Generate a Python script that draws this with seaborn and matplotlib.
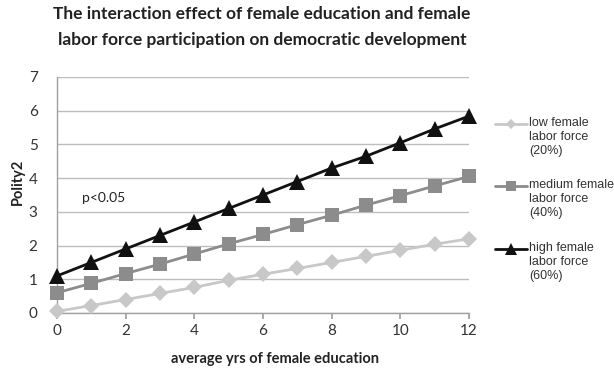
import numpy as np
import pandas as pd
import seaborn as sns
import matplotlib
matplotlib.use("Agg")
import matplotlib.pyplot as plt
from matplotlib.lines import Line2D

# Predicted Polity2 by years of female education, per labor-force level
years = list(range(0, 13))
low_lf = [0.05, 0.22, 0.40, 0.58, 0.76, 0.97, 1.15, 1.32, 1.50, 1.68, 1.86, 2.04, 2.20]
med_lf = [0.60, 0.88, 1.17, 1.45, 1.75, 2.05, 2.33, 2.62, 2.90, 3.20, 3.48, 3.77, 4.05]
high_lf = [1.10, 1.50, 1.90, 2.30, 2.70, 3.10, 3.50, 3.90, 4.30, 4.65, 5.05, 5.46, 5.84]
series_labels = ["low female\nlabor force\n(20%)",
                 "medium female\nlabor force\n(40%)",
                 "high female\nlabor force\n(60%)"]
x_ticks = [0, 2, 4, 6, 8, 10, 12]
y_ticks = [0, 1, 2, 3, 4, 5, 6, 7]

df = pd.DataFrame({
    "years": years * 3,
    "polity": low_lf + med_lf + high_lf,
    "group": [series_labels[0]] * 13 + [series_labels[1]] * 13 + [series_labels[2]] * 13,
})

sns.set_theme(style="white")
plt.rcParams["font.family"] = ["Lato", "DejaVu Sans"]

W, H = 614, 369
fig = plt.figure(figsize=(W / 100, H / 100), dpi=100)
ax = fig.add_axes([57 / W, 1 - 313 / H, (469 - 57) / W, (313 - 77) / H])

palette = {series_labels[0]: "#c8c8c8", series_labels[1]: "#8c8c8c", series_labels[2]: "#111111"}
markers = {series_labels[0]: "D", series_labels[1]: "s", series_labels[2]: "^"}
sizes = {series_labels[0]: 8, series_labels[1]: 10, series_labels[2]: 11}

for g in series_labels:
    sns.lineplot(data=df[df["group"] == g], x="years", y="polity", ax=ax,
                 color=palette[g], marker=markers[g], markersize=sizes[g],
                 markeredgewidth=0, linewidth=2.0, legend=False, zorder=3,
                 clip_on=False)

ax.set_xlim(0, 12)
ax.set_ylim(0, 7)
ax.set_xticks(x_ticks)
ax.set_yticks(y_ticks)
ax.yaxis.grid(True, color="#bdbdbd", linewidth=1.0)
ax.xaxis.grid(False)
for s in ["top", "right"]:
    ax.spines[s].set_visible(False)
for s in ["left", "bottom"]:
    ax.spines[s].set_color("#a0a0a0")
    ax.spines[s].set_linewidth(1.0)
    ax.spines[s].set_zorder(1)
ax.tick_params(axis="x", bottom=True, length=4, color="#a0a0a0", labelsize=11,
               labelcolor="#333333", pad=4)
ax.tick_params(axis="y", left=False, labelsize=11, labelcolor="#333333", pad=8)

ax.set_xlabel("average yrs of female education", fontsize=10.5, fontweight="bold",
              color="#222222")
ax.set_ylabel("Polity2", fontsize=10.5, fontweight="bold", color="#222222")
ax.xaxis.set_label_coords(0.53, -0.165)
ax.yaxis.set_label_coords(-0.078, 0.555)

ax.text(0.72, 3.4, "p<0.05", fontsize=10, color="#222222", va="center")

fig.text(262 / W, 1 - 27 / H,
         "The interaction effect of female education and female\n"
         "labor force participation on democratic development",
         ha="center", va="center", fontsize=12.5, fontweight="bold",
         color="#222222", linespacing=1.8)

# Legend drawn entry by entry so each sample line sits on the first text line
legend_rows = [124, 186, 249]
for g, yrow in zip(series_labels, legend_rows):
    yf = 1 - yrow / H
    fig.add_artist(Line2D([495 / W, 527 / W], [yf, yf], transform=fig.transFigure,
                          color=palette[g], linewidth=2.0))
    fig.add_artist(Line2D([511 / W], [yf], transform=fig.transFigure,
                          color=palette[g], marker=markers[g],
                          markersize=sizes[g] - 3, markeredgewidth=0))
    fig.text(529 / W, yf + 7 / H, g, ha="left", va="top", fontsize=9,
             family=["Liberation Sans", "DejaVu Sans"], color="#333333",
             linespacing=1.2)

fig.savefig("out.png", dpi=100)
